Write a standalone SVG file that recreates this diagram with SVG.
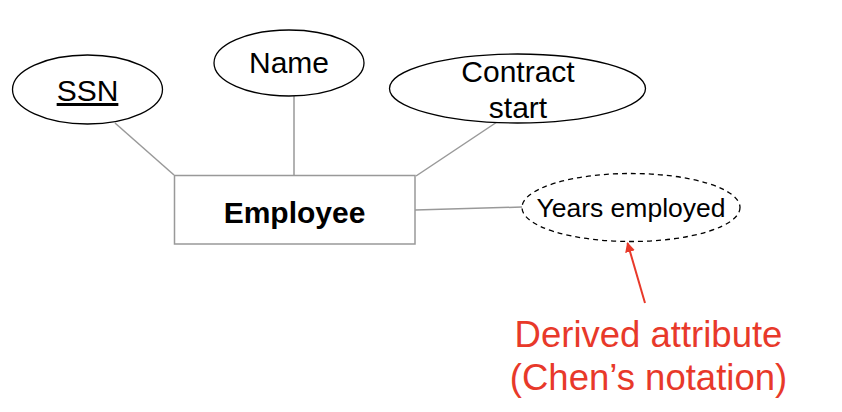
<svg xmlns="http://www.w3.org/2000/svg" width="842" height="412" viewBox="0 0 842 412">
<style>
.attr{fill:#fff;stroke:#000;stroke-width:1.3}
.der{fill:#fff;stroke:#000;stroke-width:1.3;stroke-dasharray:5,4}
.ent{fill:#fff;stroke:#999;stroke-width:1.5}
.conn line{stroke:#999;stroke-width:1.5}
.t{font-family:"Liberation Sans",Arial,sans-serif;fill:#000;text-anchor:middle}
.red{font-family:"Liberation Sans",Arial,sans-serif;fill:#e8392a;text-anchor:middle}
</style>
<defs>
<marker id="ah" viewBox="0 0 10 10" refX="9" refY="5" markerWidth="5" markerHeight="5" orient="auto" markerUnits="strokeWidth">
<path d="M0,0 L10,5 L0,10 z" fill="#e8392a"/>
</marker>
</defs>
<rect width="842" height="412" fill="#fff"/>
<g id="connectors" class="conn">
<line x1="115" y1="123" x2="174" y2="175"/>
<line x1="294" y1="96" x2="294" y2="175"/>
<line x1="497" y1="122" x2="416" y2="176"/>
<line x1="415" y1="210" x2="522" y2="207"/>
</g>
<g id="ssn">
<ellipse class="attr" cx="87.5" cy="89.5" rx="75" ry="34.5"/>
<text class="t" x="87.5" y="101" font-size="30" text-decoration="underline">SSN</text>
</g>
<g id="name">
<ellipse class="attr" cx="289" cy="63" rx="75" ry="33"/>
<text class="t" x="289" y="73" font-size="30">Name</text>
</g>
<g id="contract">
<ellipse class="attr" cx="517.5" cy="88.5" rx="128" ry="34.5"/>
<text class="t" x="518" y="82" font-size="30">Contract</text>
<text class="t" x="518" y="118" font-size="30">start</text>
</g>
<g id="employee">
<rect class="ent" x="174.5" y="175.5" width="240.5" height="68.5"/>
<text class="t" x="294.5" y="223" font-size="30" font-weight="bold">Employee</text>
</g>
<g id="years">
<ellipse class="der" cx="631" cy="207.5" rx="109" ry="34"/>
<text class="t" x="631" y="217" font-size="26.5">Years employed</text>
</g>
<g id="note">
<line x1="645" y1="303" x2="627.5" y2="243" stroke="#e8392a" stroke-width="2" marker-end="url(#ah)"/>
<text class="red" x="648.5" y="347" font-size="36.5">Derived attribute</text>
<text class="red" x="648.5" y="390" font-size="36.5">(Chen’s notation)</text>
</g>
</svg>
